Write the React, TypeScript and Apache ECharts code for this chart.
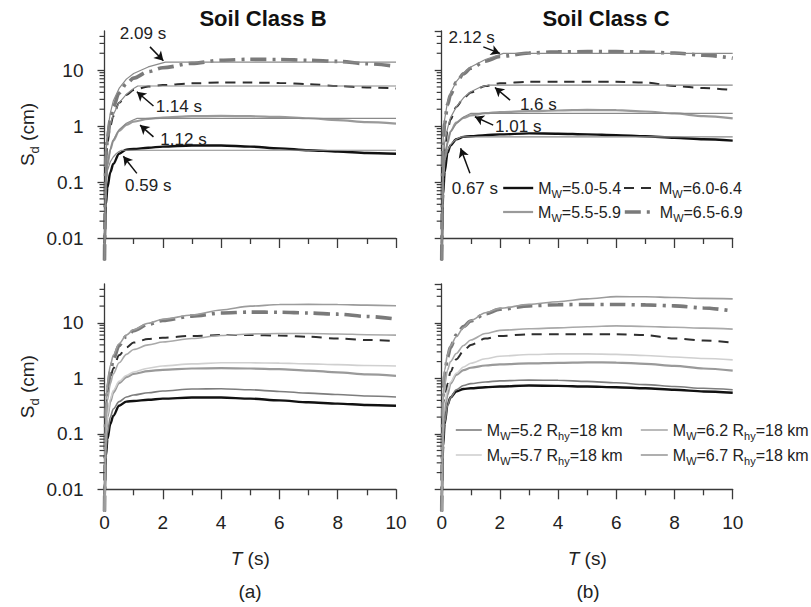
import React, { useEffect, useRef } from "react";
import * as echarts from "echarts";

const FONT = "'Liberation Sans', Arial, Helvetica, sans-serif";

// ---------- axes ----------
const X_MIN = 0;
const X_MAX = 10;
const Y_MIN = 0.01;
const Y_MAX = 50;
const Y_MINOR_TICKS = [
  0.02, 0.03, 0.04, 0.05, 0.06, 0.07, 0.08, 0.09,
  0.2, 0.3, 0.4, 0.5, 0.6, 0.7, 0.8, 0.9,
  2, 3, 4, 5, 6, 7, 8, 9,
  20, 30, 40,
];

// ---------- recorded spectra (periods, s) ----------
const T_REAL = [0, 0.05, 0.1, 0.2, 0.3, 0.5, 0.75, 1, 1.5, 2, 3, 4, 5, 6, 7, 8, 9, 10];

// Soil class B, recorded mean spectra (cm)
const B_50 = [0.004, 0.04, 0.08, 0.15, 0.21, 0.32, 0.38, 0.39, 0.41, 0.43, 0.45, 0.45, 0.43, 0.4, 0.37, 0.35, 0.33, 0.32];
const B_55 = [0.004, 0.1, 0.2, 0.38, 0.55, 0.82, 1.05, 1.2, 1.35, 1.42, 1.5, 1.52, 1.5, 1.46, 1.38, 1.28, 1.18, 1.11];
const B_60 = [0.004, 0.25, 0.5, 1.0, 1.5, 2.6, 3.6, 4.4, 5.1, 5.4, 5.8, 6.0, 6.0, 5.9, 5.6, 5.2, 4.9, 4.7];
const B_65 = [0.004, 0.3, 0.6, 1.3, 2.2, 3.9, 5.7, 7.2, 9.4, 11.0, 13.2, 15.0, 15.6, 15.5, 15.0, 14.3, 13.0, 11.7];

// Soil class C, recorded mean spectra (cm)
const C_50 = [0.004, 0.06, 0.15, 0.33, 0.45, 0.58, 0.64, 0.66, 0.69, 0.71, 0.74, 0.73, 0.71, 0.69, 0.66, 0.62, 0.58, 0.55];
const C_55 = [0.004, 0.12, 0.25, 0.5, 0.8, 1.15, 1.4, 1.55, 1.7, 1.78, 1.85, 1.9, 1.94, 1.92, 1.82, 1.68, 1.5, 1.37];
const C_60 = [0.004, 0.2, 0.4, 0.8, 1.3, 2.2, 3.1, 4.0, 5.2, 5.8, 6.2, 6.2, 6.2, 6.2, 6.0, 5.2, 4.8, 4.4];
const C_65 = [0.004, 0.5, 1.1, 2.4, 3.6, 6.0, 8.6, 10.8, 14.5, 17.5, 20.2, 21.2, 21.4, 21.4, 21.0, 20.2, 18.5, 16.3];

// ---------- idealised (bilinear) spectra ----------
const IB1_T = [0, 0.05, 0.1, 0.2, 0.3, 0.4, 0.5, 0.59, 10];
const IB1_V = [0.004, 0.1, 0.16, 0.23, 0.28, 0.32, 0.35, 0.37, 0.37];
const IB2_T = [0, 0.05, 0.1, 0.2, 0.3, 0.5, 0.75, 1, 1.12, 10];
const IB2_V = [0.004, 0.12, 0.2, 0.38, 0.56, 0.86, 1.12, 1.3, 1.37, 1.37];
const IB3_T = [0, 0.05, 0.1, 0.2, 0.3, 0.5, 0.75, 1, 1.14, 10];
const IB3_V = [0.004, 0.35, 0.6, 1.1, 1.6, 2.6, 3.7, 4.7, 5.2, 5.2];
const IB4_T = [0, 0.05, 0.1, 0.2, 0.3, 0.5, 0.75, 1, 1.5, 2.09, 10];
const IB4_V = [0.004, 0.4, 0.8, 1.7, 2.8, 4.7, 6.9, 8.7, 11.4, 13.9, 13.9];

const IC1_T = [0, 0.05, 0.1, 0.2, 0.3, 0.4, 0.5, 0.67, 10];
const IC1_V = [0.004, 0.15, 0.24, 0.37, 0.46, 0.53, 0.58, 0.64, 0.64];
const IC2_T = [0, 0.05, 0.1, 0.2, 0.3, 0.5, 0.75, 1.01, 10];
const IC2_V = [0.004, 0.15, 0.28, 0.52, 0.78, 1.1, 1.45, 1.69, 1.69];
const IC3_T = [0, 0.05, 0.1, 0.2, 0.3, 0.5, 0.75, 1, 1.3, 1.6, 10];
const IC3_V = [0.004, 0.25, 0.5, 0.9, 1.4, 2.2, 3.2, 4.1, 4.9, 5.4, 5.4];
const IC4_T = [0, 0.05, 0.1, 0.2, 0.3, 0.5, 0.75, 1, 1.5, 2.12, 10];
const IC4_V = [0.004, 0.6, 1.3, 2.7, 3.9, 6.2, 8.9, 11.4, 15.5, 19.9, 19.9];

// ---------- model predictions, Rhy = 18 km ----------
const T_MOD = [0, 0.05, 0.1, 0.2, 0.3, 0.5, 0.75, 1, 1.5, 2, 3, 4, 5, 6, 7, 8, 9, 10];
const MB_52 = [0.004, 0.05, 0.1, 0.2, 0.28, 0.38, 0.46, 0.5, 0.55, 0.59, 0.64, 0.65, 0.62, 0.58, 0.54, 0.51, 0.48, 0.46];
const MB_57 = [0.004, 0.12, 0.22, 0.42, 0.6, 0.88, 1.12, 1.3, 1.52, 1.67, 1.82, 1.9, 1.9, 1.88, 1.82, 1.76, 1.7, 1.67];
const MB_62 = [0.004, 0.2, 0.4, 0.8, 1.2, 1.9, 2.7, 3.3, 4.0, 4.5, 5.2, 5.9, 6.3, 6.4, 6.4, 6.3, 6.1, 6.0];
const MB_67 = [0.004, 0.4, 0.8, 1.7, 2.6, 4.2, 6.0, 7.5, 9.8, 11.6, 13.8, 17.0, 20.0, 21.3, 21.5, 21.3, 20.8, 20.3];
const MC_52 = [0.004, 0.08, 0.16, 0.32, 0.45, 0.62, 0.74, 0.8, 0.86, 0.9, 0.93, 0.92, 0.88, 0.83, 0.77, 0.71, 0.66, 0.62];
const MC_57 = [0.004, 0.2, 0.36, 0.62, 0.85, 1.23, 1.6, 1.87, 2.25, 2.5, 2.68, 2.75, 2.75, 2.7, 2.58, 2.42, 2.28, 2.15];
const MC_62 = [0.004, 0.4, 0.75, 1.4, 2.0, 2.8, 3.9, 4.9, 6.4, 7.3, 7.8, 8.1, 8.5, 8.8, 8.6, 8.3, 8.0, 7.7];
const MC_67 = [0.004, 0.7, 1.4, 2.7, 3.8, 5.6, 8.2, 11, 15.2, 18.2, 21.5, 24, 27, 29.6, 29.5, 28.5, 27.5, 27];

// ---------- annotations: corner periods ----------
const ANN_B_LABELS = ["2.09 s", "1.14 s", "1.12 s", "0.59 s"];
const ANN_B_TEXT = [[1.32, 45], [2.55, 2.2], [2.71, 0.58], [1.5, 0.088]];
const ANN_B_FROM = [[1.56, 26], [1.68, 2.28], [1.68, 0.64], [1.11, 0.143]];
const ANN_B_TO = [[2.02, 14.7], [1.11, 4.1], [1.22, 1.04], [0.646, 0.29]];
const ANN_C_LABELS = ["2.12 s", "1.6 s", "1.01 s", "0.67 s"];
const ANN_C_TEXT = [[1.03, 39], [3.32, 2.47], [2.63, 0.97], [1.14, 0.077]];
const ANN_C_FROM = [[1.43, 26], [2.35, 2.91], [1.77, 1.04], [0.97, 0.143]];
const ANN_C_TO = [[2.0, 19.9], [1.83, 4.9], [1.14, 1.47], [0.65, 0.4]];

const LEGEND_TEXT: Record<string, string> = {
  C_50: "{n|M}{s|W}{n|=5.0-5.4}",
  C_55: "{n|M}{s|W}{n|=5.5-5.9}",
  C_60: "{n|M}{s|W}{n|=6.0-6.4}",
  C_65: "{n|M}{s|W}{n|=6.5-6.9}",
  M52: "{n|M}{s|W}{n|=5.2 R}{s|hy}{n|=18 km}",
  M57: "{n|M}{s|W}{n|=5.7 R}{s|hy}{n|=18 km}",
  M62: "{n|M}{s|W}{n|=6.2 R}{s|hy}{n|=18 km}",
  M67: "{n|M}{s|W}{n|=6.7 R}{s|hy}{n|=18 km}",
};

// ---------- styles ----------
const ST_50 = { color: "#111111", width: 2.4, type: "solid" as any };
const ST_55 = { color: "#9a9a9a", width: 2.2, type: "solid" as any };
const ST_60 = { color: "#2e2e2e", width: 2, type: [10, 7] as any };
const ST_65 = { color: "#7a7a7a", width: 3.6, type: [16, 6, 3, 6] as any };
const ST_THIN = { color: "#8a8a8a", width: 1.2, type: "solid" as any };
const ST_M52 = { color: "#7d7d7d", width: 1.6, type: "solid" as any };
const ST_M57 = { color: "#d0d0d0", width: 1.6, type: "solid" as any };
const ST_M62 = { color: "#a9a9a9", width: 1.6, type: "solid" as any };
const ST_M67 = { color: "#9c9c9c", width: 1.6, type: "solid" as any };

const LEGEND_STYLE: Record<string, any> = {
  C_50: ST_50,
  C_55: ST_55,
  C_60: ST_60,
  C_65: ST_65,
  M52: ST_M52,
  M57: ST_M57,
  M62: ST_M62,
  M67: ST_M67,
};

const GRIDS = [
  { left: 104.5, top: 31, width: 291.5, height: 207 },
  { left: 441.7, top: 31, width: 291, height: 207 },
  { left: 104.5, top: 284, width: 291.5, height: 205.3 },
  { left: 441.7, top: 284, width: 291, height: 205.3 },
];

const AXIS_COLOR = "#3a3a3a";
const TEXT_COLOR = "#222222";

function lineSeries(name: string, gi: number, xs: number[], ys: number[], st: any, z: number, smooth: boolean, extra: any = {}) {
  return {
    type: "line",
    name,
    xAxisIndex: gi,
    yAxisIndex: gi,
    data: xs.map((x, i) => [x, ys[i]]),
    symbol: "none",
    showSymbol: false,
    clip: false,
    smooth: smooth ? 0.3 : false,
    smoothMonotone: "x",
    silent: true,
    z,
    lineStyle: { color: st.color, width: st.width, type: st.type },
    itemStyle: { color: st.color },
    ...extra,
  };
}

function annotations(labels: string[], text: number[][], from: number[][], to: number[][]) {
  return {
    markLine: {
      silent: true,
      symbol: ["none", "arrow"],
      symbolSize: [8, 9],
      lineStyle: { color: "#111", width: 1.5, type: "solid" },
      label: { show: false },
      data: from.map((f, i) => [{ coord: f }, { coord: to[i] }]),
    },
    markPoint: {
      silent: true,
      symbol: "circle",
      symbolSize: 1,
      itemStyle: { color: "rgba(0,0,0,0)" },
      label: {
        show: true,
        position: "inside",
        color: TEXT_COLOR,
        fontSize: 17,
        fontFamily: FONT,
        formatter: (p: any) => p.name,
      },
      data: labels.map((l, i) => ({ name: l, coord: text[i] })),
    },
  };
}

function minorTickSeries(gi: number) {
  return {
    type: "custom",
    xAxisIndex: gi,
    yAxisIndex: gi,
    silent: true,
    clip: false,
    z: 5,
    data: Y_MINOR_TICKS.map((v) => [X_MIN, v]),
    renderItem: (params: any, api: any) => {
      const p = api.coord([api.value(0), api.value(1)]);
      return {
        type: "line",
        shape: { x1: p[0] - 5, y1: p[1], x2: p[0], y2: p[1] },
        style: { stroke: AXIS_COLOR, lineWidth: 1.2 },
      };
    },
  };
}

const richLegend = {
  n: { fontSize: 16, lineHeight: 22, color: TEXT_COLOR, fontFamily: FONT },
  s: { fontSize: 11, lineHeight: 12, verticalAlign: "bottom", color: TEXT_COLOR, fontFamily: FONT },
};

function legendBox(name: string, left: number, top: number, w: number) {
  const st = LEGEND_STYLE[name];
  return {
    data: [
      {
        name,
        itemStyle: { color: "rgba(0,0,0,0)", borderColor: "rgba(0,0,0,0)", borderWidth: 0 },
        lineStyle: { color: st.color, width: st.width, type: st.type, opacity: 1 },
      },
    ],
    left,
    top,
    itemWidth: w,
    itemHeight: 12,
    itemGap: 0,
    padding: 0,
    selectedMode: false,
    formatter: (n: string) => LEGEND_TEXT[n],
    textStyle: { rich: richLegend, fontFamily: FONT, fontSize: 16, color: TEXT_COLOR },
  };
}

export default function App() {
  const ref = useRef<HTMLDivElement>(null);

  useEffect(() => {
    if (!ref.current) return;
    const chart = echarts.init(ref.current, undefined, { renderer: "svg" });

    const xAxes = [0, 1, 2, 3].map((i) => {
      const bottom = i >= 2;
      return {
        gridIndex: i,
        type: "value",
        min: X_MIN,
        max: X_MAX,
        interval: 2,
        axisLine: { show: true, onZero: false, lineStyle: { color: AXIS_COLOR, width: 1.3 } },
        axisTick: { show: true, length: 10, lineStyle: { color: AXIS_COLOR, width: 1.3 } },
        minorTick: { show: true, splitNumber: 2, length: 6, lineStyle: { color: AXIS_COLOR, width: 1.3 } },
        splitLine: { show: false },
        minorSplitLine: { show: false },
        axisLabel: {
          show: bottom,
          fontSize: 19,
          margin: 24,
          color: TEXT_COLOR,
          fontFamily: FONT,
        },
        name: bottom ? "{i|T} (s)" : "",
        nameLocation: "middle",
        nameGap: 60,
        nameTextStyle: {
          fontSize: 19,
          color: TEXT_COLOR,
          fontFamily: FONT,
          rich: { i: { fontStyle: "italic", fontSize: 19, color: TEXT_COLOR, fontFamily: FONT } },
        },
      };
    });

    const yAxes = [0, 1, 2, 3].map((i) => {
      const left = i % 2 === 0;
      return {
        gridIndex: i,
        type: "log",
        logBase: 10,
        min: Y_MIN,
        max: Y_MAX,
        axisLine: { show: true, onZero: false, lineStyle: { color: AXIS_COLOR, width: 1.3 } },
        axisTick: { show: true, length: 7, lineStyle: { color: AXIS_COLOR, width: 1.3 } },
        minorTick: { show: false },
        splitLine: { show: false },
        axisLabel: {
          show: left,
          fontSize: 19,
          margin: 21,
          color: TEXT_COLOR,
          fontFamily: FONT,
          showMaxLabel: false,
          formatter: (v: number) => {
            const l = Math.log10(v);
            return Math.abs(l - Math.round(l)) < 1e-6 ? String(v) : "";
          },
        },
        name: left ? "{n|S}{s|d}{n| (cm)}" : "",
        nameLocation: "middle",
        nameRotate: 90,
        nameGap: 64,
        nameTextStyle: {
          rich: {
            n: { fontSize: 19, lineHeight: 26, color: TEXT_COLOR, fontFamily: FONT },
            s: { fontSize: 13, lineHeight: 14, verticalAlign: "bottom", color: TEXT_COLOR, fontFamily: FONT },
          },
        },
      };
    });

    const series: any[] = [
      // Top-left: soil class B
      lineSeries("B_50", 0, T_REAL, B_50, ST_50, 2, true),
      lineSeries("B_55", 0, T_REAL, B_55, ST_55, 2, true),
      lineSeries("B_60", 0, T_REAL, B_60, ST_60, 2, true),
      lineSeries("B_65", 0, T_REAL, B_65, ST_65, 2, true),
      lineSeries("IB1", 0, IB1_T, IB1_V, ST_THIN, 3, false),
      lineSeries("IB2", 0, IB2_T, IB2_V, ST_THIN, 3, false),
      lineSeries("IB3", 0, IB3_T, IB3_V, ST_THIN, 3, false),
      lineSeries("IB4", 0, IB4_T, IB4_V, ST_THIN, 3, false, annotations(ANN_B_LABELS, ANN_B_TEXT, ANN_B_FROM, ANN_B_TO)),
      // Top-right: soil class C
      lineSeries("C_50", 1, T_REAL, C_50, ST_50, 2, true),
      lineSeries("C_55", 1, T_REAL, C_55, ST_55, 2, true),
      lineSeries("C_60", 1, T_REAL, C_60, ST_60, 2, true),
      lineSeries("C_65", 1, T_REAL, C_65, ST_65, 2, true),
      lineSeries("IC1", 1, IC1_T, IC1_V, ST_THIN, 3, false),
      lineSeries("IC2", 1, IC2_T, IC2_V, ST_THIN, 3, false),
      lineSeries("IC3", 1, IC3_T, IC3_V, ST_THIN, 3, false),
      lineSeries("IC4", 1, IC4_T, IC4_V, ST_THIN, 3, false, annotations(ANN_C_LABELS, ANN_C_TEXT, ANN_C_FROM, ANN_C_TO)),
      // Bottom-left: class B vs model
      lineSeries("BB_50", 2, T_REAL, B_50, ST_50, 2, true),
      lineSeries("BB_55", 2, T_REAL, B_55, ST_55, 2, true),
      lineSeries("BB_60", 2, T_REAL, B_60, ST_60, 2, true),
      lineSeries("BB_65", 2, T_REAL, B_65, ST_65, 2, true),
      lineSeries("MB52", 2, T_MOD, MB_52, ST_M52, 3, true),
      lineSeries("MB57", 2, T_MOD, MB_57, ST_M57, 3, true),
      lineSeries("MB62", 2, T_MOD, MB_62, ST_M62, 3, true),
      lineSeries("MB67", 2, T_MOD, MB_67, ST_M67, 3, true),
      // Bottom-right: class C vs model
      lineSeries("BC_50", 3, T_REAL, C_50, ST_50, 2, true),
      lineSeries("BC_55", 3, T_REAL, C_55, ST_55, 2, true),
      lineSeries("BC_60", 3, T_REAL, C_60, ST_60, 2, true),
      lineSeries("BC_65", 3, T_REAL, C_65, ST_65, 2, true),
      lineSeries("M52", 3, T_MOD, MC_52, ST_M52, 3, true),
      lineSeries("M57", 3, T_MOD, MC_57, ST_M57, 3, true),
      lineSeries("M62", 3, T_MOD, MC_62, ST_M62, 3, true),
      lineSeries("M67", 3, T_MOD, MC_67, ST_M67, 3, true),
      minorTickSeries(0),
      minorTickSeries(1),
      minorTickSeries(2),
      minorTickSeries(3),
    ];

    chart.setOption({
      animation: false,
      backgroundColor: "#ffffff",
      textStyle: { fontFamily: FONT },
      grid: GRIDS.map((g) => ({ ...g, containLabel: false, outerBoundsMode: "none" })),
      xAxis: xAxes,
      yAxis: yAxes,
      legend: [
        legendBox("C_50", 502, 180, 30),
        legendBox("C_60", 623, 180, 30),
        legendBox("C_55", 502, 204, 30),
        legendBox("C_65", 623, 204, 30),
        legendBox("M52", 455, 422, 26),
        legendBox("M62", 640, 422, 27),
        legendBox("M57", 455, 447, 26),
        legendBox("M67", 640, 447, 27),
      ],
      graphic: [
        {
          type: "text",
          x: 263,
          y: 18,
          style: { text: "Soil Class B", font: `bold 22px ${FONT}`, fill: "#111", align: "center", verticalAlign: "middle" },
        },
        {
          type: "text",
          x: 606,
          y: 18,
          style: { text: "Soil Class C", font: `bold 22px ${FONT}`, fill: "#111", align: "center", verticalAlign: "middle" },
        },
        {
          type: "text",
          x: 250,
          y: 591,
          style: { text: "(a)", font: `19px ${FONT}`, fill: TEXT_COLOR, align: "center", verticalAlign: "middle" },
        },
        {
          type: "text",
          x: 588,
          y: 591,
          style: { text: "(b)", font: `19px ${FONT}`, fill: TEXT_COLOR, align: "center", verticalAlign: "middle" },
        },
      ],
      series,
    });

    return () => chart.dispose();
  }, []);

  return (
    <div
      ref={ref}
      style={{ position: "fixed", left: 0, top: 0, width: 811, height: 607, background: "#fff" }}
    />
  );
}
